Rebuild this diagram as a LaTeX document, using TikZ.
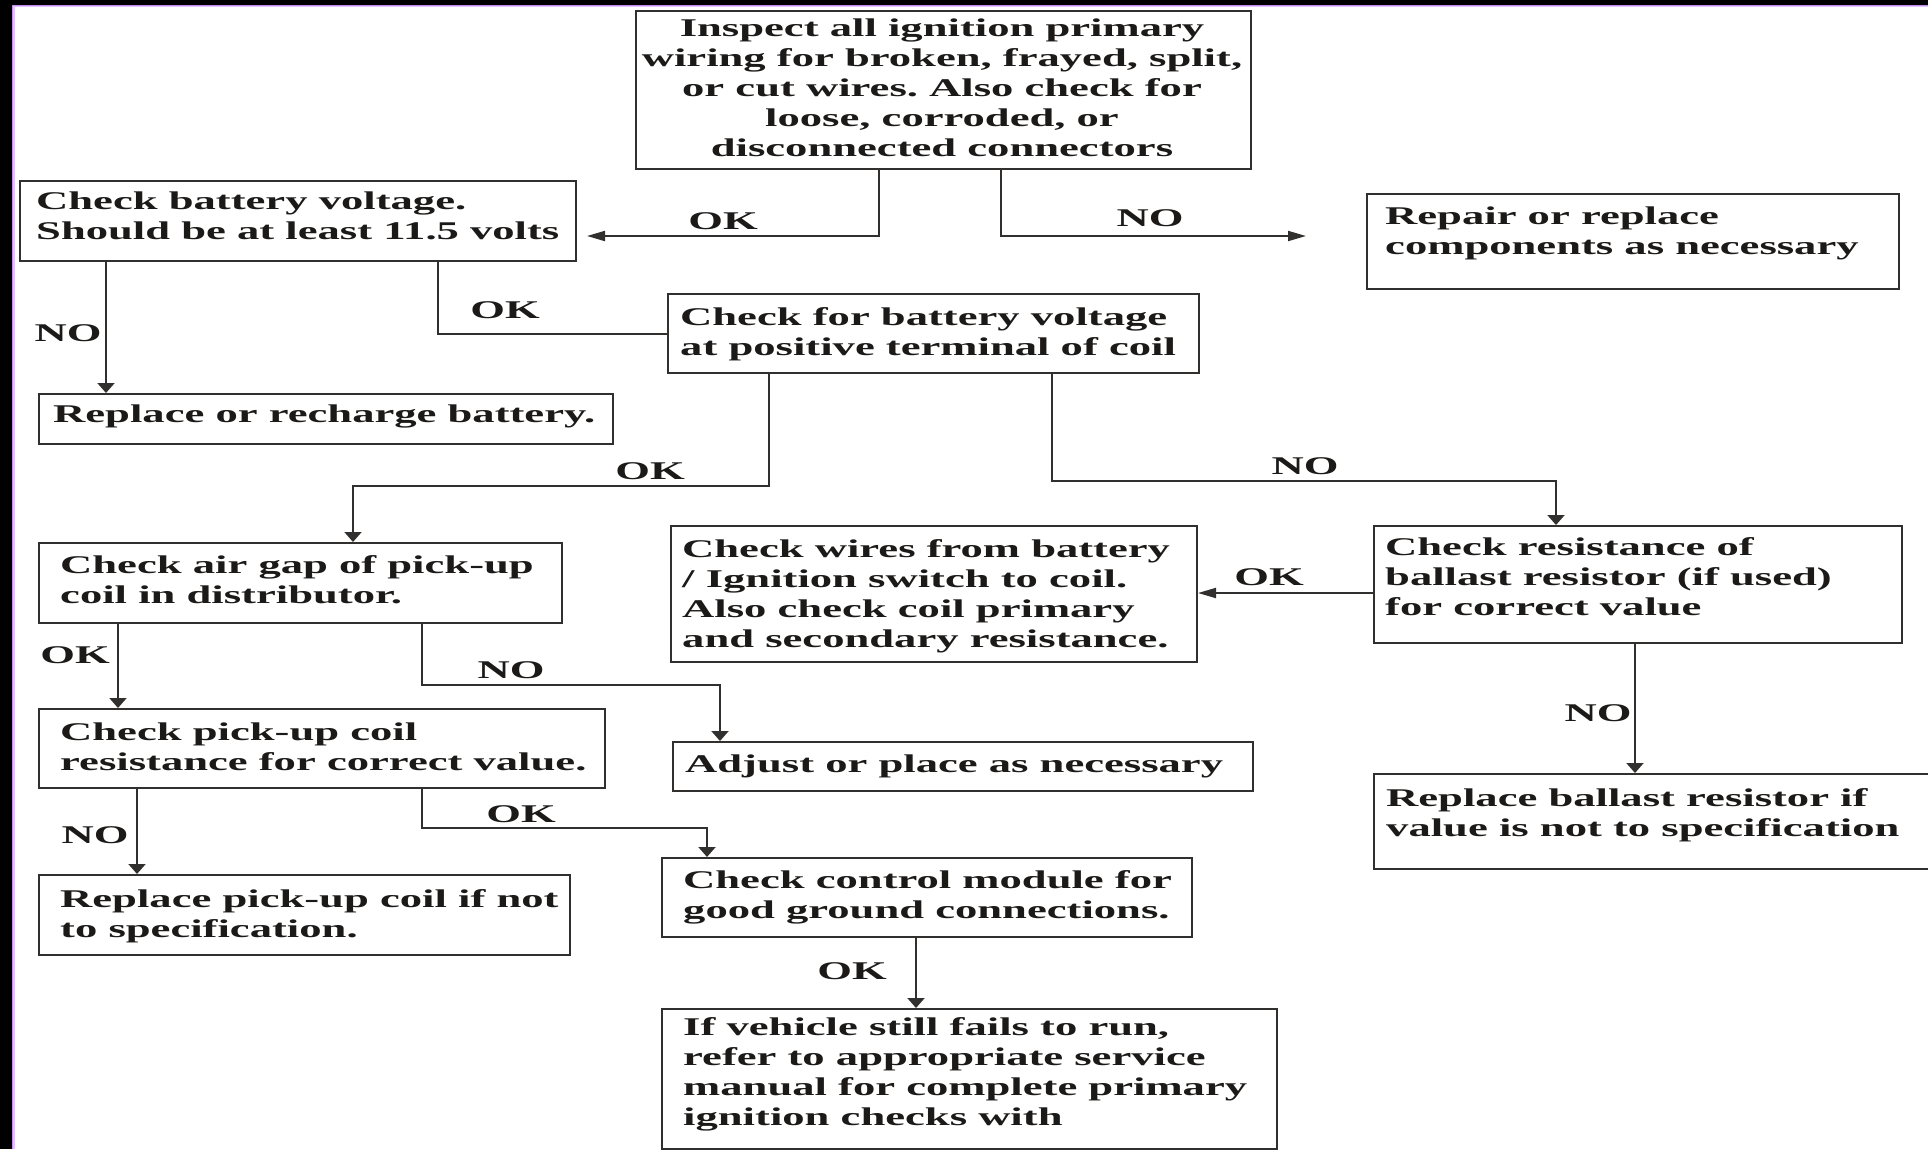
\documentclass[tikz,border=0pt]{standalone}
\usepackage{fontspec}
\newfontfamily\ff[FakeStretch=1.75]{Liberation Serif}
\usetikzlibrary{arrows.meta,calc}
\definecolor{ink}{RGB}{28,26,24}
\definecolor{edge}{RGB}{50,48,46}
\definecolor{frameP}{RGB}{196,140,240}
\definecolor{frameL}{RGB}{225,195,255}
\frenchspacing
\newcommand{\tbl}[1]{\begin{tabular}[t]{@{}l@{}}#1\end{tabular}}
\newcommand{\tbc}[1]{\begin{tabular}[t]{@{}c@{}}#1\end{tabular}}
\begin{document}
\begin{tikzpicture}[x=1pt,y=-1pt,
  bx/.style={draw=edge, line width=2pt, inner sep=0pt, anchor=north west},
  txt/.style={inner sep=0pt, text=ink, font=\ff\bfseries\fontsize{25.5}{30}\selectfont, anchor=base west},
  lbl/.style={inner sep=0pt, text=ink, font=\ff\bfseries\fontsize{25.5}{30}\selectfont},
  conn/.style={draw=edge, line width=2pt},
  harr/.style={conn, -{Triangle[length=18pt,width=10pt]}},
  varr/.style={conn, -{Triangle[length=10pt,width=17pt]}}
]
\useasboundingbox (0,0) rectangle (1928,1149);
\fill[white] (0,0) rectangle (1928,1149);
\fill[black] (0,0) rectangle (12,1149);
\fill[black] (0,0) rectangle (1928,5);
\fill[frameL] (12,5) rectangle (1928,7);
\fill[frameL] (12,5) rectangle (15,1149);
\fill[frameP] (12,5) rectangle (1928,6);
\fill[frameP] (12,5) rectangle (13,1149);

% boxes
\node[bx, minimum width=615pt, minimum height=158pt] (top) at (635,10) {};
\node[bx, minimum width=556pt, minimum height=80pt] (bat) at (19,180) {};
\node[bx, minimum width=532pt, minimum height=95pt] (rep) at (1366,193) {};
\node[bx, minimum width=531pt, minimum height=79pt] (coil) at (667,293) {};
\node[bx, minimum width=574pt, minimum height=50pt] (rbat) at (38,393) {};
\node[bx, minimum width=523pt, minimum height=80pt] (air) at (38,542) {};
\node[bx, minimum width=526pt, minimum height=136pt] (wires) at (670,525) {};
\node[bx, minimum width=528pt, minimum height=117pt] (ball) at (1373,525) {};
\node[bx, minimum width=566pt, minimum height=79pt] (pick) at (38,708) {};
\node[bx, minimum width=580pt, minimum height=49pt] (adj) at (672,741) {};
\node[bx, minimum width=565pt, minimum height=95pt] (rball) at (1373,773) {};
\node[bx, minimum width=531pt, minimum height=80pt] (rpick) at (38,874) {};
\node[bx, minimum width=530pt, minimum height=79pt] (ctrl) at (661,857) {};
\node[bx, minimum width=615pt, minimum height=140pt] (fin) at (661,1008) {};

% texts
\node[txt, anchor=base] (topT) at (942,36) {\tbc{Inspect all ignition primary\\wiring for broken, frayed, split,\\or cut wires. Also check for\\loose, corroded, or\\disconnected connectors}};
\node[txt] (batT) at (36,209) {\tbl{Check battery voltage.\\Should be at least 11.5 volts}};
\node[txt] (repT) at (1385,224) {\tbl{Repair or replace\\components as necessary}};
\node[txt] (coilT) at (680,325) {\tbl{Check for battery voltage\\at positive terminal of coil}};
\node[txt] (rbatT) at (53,422) {\tbl{Replace or recharge battery.}};
\node[txt] (airT) at (60,573) {\tbl{Check air gap of pick-up\\coil in distributor.}};
\node[txt] (wiresT) at (682,557) {\tbl{Check wires from battery\\/ Ignition switch to coil.\\Also check coil primary\\and secondary resistance.}};
\node[txt] (ballT) at (1385,555) {\tbl{Check resistance of\\ballast resistor (if used)\\for correct value}};
\node[txt] (pickT) at (60,740) {\tbl{Check pick-up coil\\resistance for correct value.}};
\node[txt] (adjT) at (685,772) {\tbl{Adjust or place as necessary}};
\node[txt] (rballT) at (1386,806) {\tbl{Replace ballast resistor if\\value is not to specification}};
\node[txt] (rpickT) at (60,907) {\tbl{Replace pick-up coil if not\\to specification.}};
\node[txt] (ctrlT) at (683,888) {\tbl{Check control module for\\good ground connections.}};
\node[txt] (finT) at (683,1035) {\tbl{If vehicle still fails to run,\\refer to appropriate service\\manual for complete primary\\ignition checks with}};

% connectors
\coordinate (k1) at (879,236);
\draw[harr, shorten >=10pt] (top.south -| k1) -- (k1) -- (k1 -| bat.east);
\coordinate (k2) at (1001,236);
\draw[harr, shorten >=60pt] (top.south -| k2) -- (k2) -- (k2 -| rep.west);
\coordinate (k3) at (106,0);
\draw[varr] (bat.south -| k3) -- (rbat.north -| k3);
\coordinate (k4) at (438,0);
\draw[conn] (bat.south -| k4) |- (coil.west);
\coordinate (k5a) at (769,486);
\coordinate (k5b) at (353,486);
\draw[varr] (coil.south -| k5a) -- (k5a) -- (k5b) -- (air.north -| k5b);
\coordinate (k6a) at (1052,481);
\coordinate (k6b) at (1556,481);
\draw[varr] (coil.south -| k6a) -- (k6a) -- (k6b) -- (ball.north -| k6b);
\coordinate (k7) at (0,593);
\draw[harr] (ball.west |- k7) -- (wires.east |- k7);
\coordinate (k8) at (1635,0);
\draw[varr] (ball.south -| k8) -- (rball.north -| k8);
\coordinate (k9) at (118,0);
\draw[varr] (air.south -| k9) -- (pick.north -| k9);
\coordinate (k10a) at (422,685);
\coordinate (k10b) at (720,685);
\draw[varr] (air.south -| k10a) -- (k10a) -- (k10b) -- (adj.north -| k10b);
\coordinate (k11) at (137,0);
\draw[varr] (pick.south -| k11) -- (rpick.north -| k11);
\coordinate (k12a) at (422,828);
\coordinate (k12b) at (707,828);
\draw[varr] (pick.south -| k12a) -- (k12a) -- (k12b) -- (ctrl.north -| k12b);
\coordinate (k13) at (916,0);
\draw[varr] (ctrl.south -| k13) -- (fin.north -| k13);

% labels
\node[lbl] (l1) at (723,221) {OK};
\node[lbl] (l2) at (1150,218) {NO};
\node[lbl] (l3) at (68,333) {NO};
\node[lbl] (l4) at (505,310) {OK};
\node[lbl] (l5) at (650,471) {OK};
\node[lbl] (l6) at (1305,466) {NO};
\node[lbl] (l7) at (1269,577) {OK};
\node[lbl] (l8) at (1598,713) {NO};
\node[lbl] (l9) at (75,655) {OK};
\node[lbl] (l10) at (511,670) {NO};
\node[lbl] (l11) at (95,835) {NO};
\node[lbl] (l12) at (521,814) {OK};
\node[lbl] (l13) at (852,971) {OK};
\end{tikzpicture}
\end{document}
